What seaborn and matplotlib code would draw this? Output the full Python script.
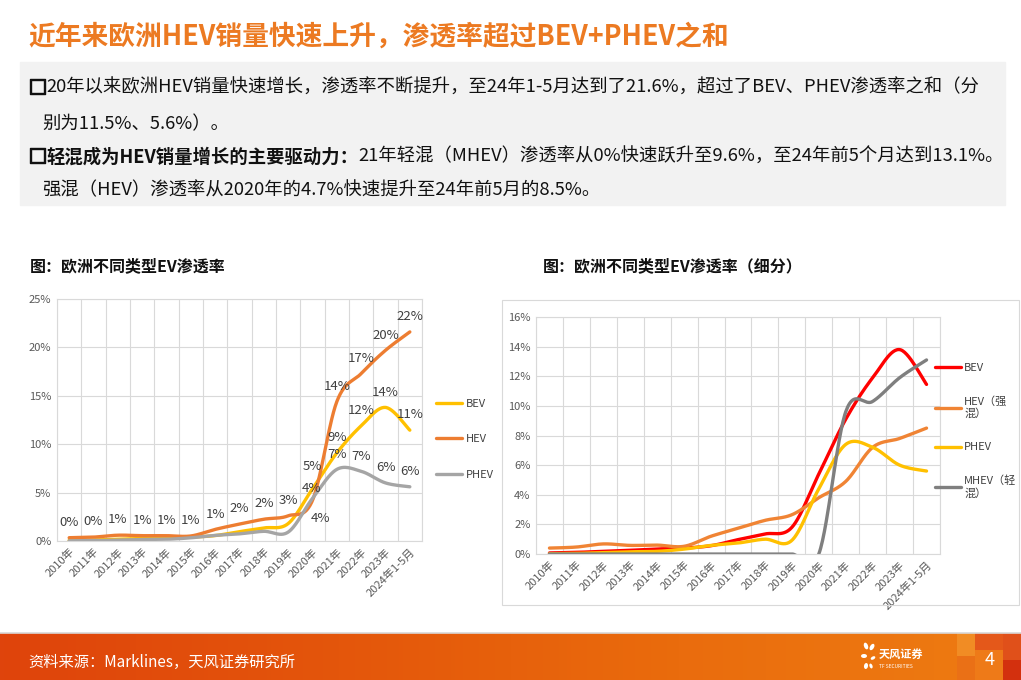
import numpy as np
import matplotlib
matplotlib.use("Agg")
import matplotlib.pyplot as plt
import matplotlib.patheffects as pe
import seaborn as sns
from matplotlib.patches import Rectangle, Ellipse
from matplotlib.ticker import FuncFormatter, MultipleLocator
from matplotlib.colors import LinearSegmentedColormap

# ── data (penetration rate, %) ─────────────────
years = ["2010年", "2011年", "2012年", "2013年", "2014年", "2015年", "2016年", "2017年",
         "2018年", "2019年", "2020年", "2021年", "2022年", "2023年", "2024年1-5月"]
bev = [0.07, 0.11, 0.18, 0.25, 0.34, 0.40, 0.56, 0.97, 1.35, 1.80, 5.4, 9.1, 11.9, 13.8, 11.45]
phev = [0.02, 0.04, 0.10, 0.15, 0.18, 0.33, 0.58, 0.74, 1.00, 0.92, 4.4, 7.4, 7.2, 6.0, 5.6]
hev_total = [0.34, 0.40, 0.60, 0.55, 0.55, 0.52, 1.20, 1.75, 2.25, 2.60, 4.2, 14.4, 17.3, 19.7, 21.6]
hev_strong = [0.40, 0.47, 0.68, 0.58, 0.60, 0.52, 1.20, 1.73, 2.27, 2.65, 3.8, 4.9, 7.2, 7.8, 8.5]
mhev = [0, 0, 0, 0, 0, 0, 0, 0, 0, 0, 0, 9.6, 10.3, 11.9, 13.1]

title = "近年来欧洲HEV销量快速上升，渗透率超过BEV+PHEV之和"
left_title = "图：欧洲不同类型EV渗透率"
right_title = "图：欧洲不同类型EV渗透率（细分）"
source = "资料来源：Marklines，天风证券研究所"

W, H = 1021, 680

sns.set_theme(style="white")
plt.rcParams["font.family"] = ["Noto Sans CJK SC", "DejaVu Sans"]
plt.rcParams["axes.unicode_minus"] = False


def smooth(ys, n=30):
    """Excel-like smoothed line (cardinal Bezier through every point)."""
    x = np.arange(len(ys), dtype=float)
    y = np.asarray(ys, dtype=float)
    px = np.concatenate([[x[0]], x, [x[-1]]])
    py = np.concatenate([[y[0]], y, [y[-1]]])
    t = np.linspace(0, 1, n)
    xs, ys_out = [], []
    for i in range(len(x) - 1):
        p0, p1, p2, p3 = (np.array([px[i + k], py[i + k]]) for k in range(4))
        c1 = p1 + (p2 - p0) / 6
        c2 = p2 - (p3 - p1) / 6
        b = (np.outer((1 - t) ** 3, p1) + np.outer(3 * (1 - t) ** 2 * t, c1)
             + np.outer(3 * (1 - t) * t ** 2, c2) + np.outer(t ** 3, p2))
        if i > 0:
            b = b[1:]
        xs.append(b[:, 0])
        ys_out.append(b[:, 1])
    return np.concatenate(xs), np.concatenate(ys_out)


def style_axes(ax, ymax, ystep):
    n = len(years)
    ax.set_xlim(-0.5, n - 0.5)
    ax.set_ylim(0, ymax)
    ax.yaxis.set_major_locator(MultipleLocator(ystep))
    ax.yaxis.set_major_formatter(FuncFormatter(lambda v, _: f"{v:.0f}%"))
    ax.set_xticks(range(n))
    ax.set_xticklabels(years, rotation=45, ha="right", va="top", rotation_mode="anchor")
    ax.set_xticks(np.arange(-0.5, n), minor=True)
    ax.grid(False)
    ax.grid(which="minor", axis="x", color="#D9D9D9", lw=0.8)
    ax.grid(which="major", axis="y", color="#D9D9D9", lw=0.8)
    ax.tick_params(axis="both", which="both", length=0, labelsize=8, colors="#595959", pad=4)
    for sp in ax.spines.values():
        sp.set_color("#D9D9D9")
        sp.set_linewidth(0.8)
    ax.set_xlabel("")
    ax.set_ylabel("")


fig = plt.figure(figsize=(W / 100, H / 100), dpi=100)


def px_axes(l, t, r, b):
    return fig.add_axes([l / W, 1 - b / H, (r - l) / W, (b - t) / H])


# ── header ─────────────────────────────────────
fig.text(28 / W, 1 - 37 / H, title, fontsize=19.3, fontweight="bold", color="#EC7A22",
         va="center", ha="left")
fig.patches.append(Rectangle((20 / W, 1 - 205 / H), 985 / W, 143 / H,
                             transform=fig.transFigure, color="#F2F2F2", zorder=0))

renderer = fig.canvas.get_renderer()
thick = [pe.withStroke(linewidth=1.0, foreground="#111111")]


def rich_line(x_px, y_px, parts, size=13.2):
    x = x_px
    for s, weight in parts:
        t = fig.text(x / W, 1 - y_px / H, s, fontsize=size, fontweight=weight,
                     color="#111111", va="center", ha="left")
        if s == "□":
            t.set_path_effects(thick)
        x += t.get_window_extent(renderer).width


rich_line(28, 88, [("□", "bold"), ("20年以来欧洲HEV销量快速增长，渗透率不断提升，至24年1-5月达到了21.6%，超过了BEV、PHEV渗透率之和（分", "normal")])
rich_line(42, 124, [("别为11.5%、5.6%）。", "normal")])
rich_line(28, 157, [("□", "bold"), ("轻混成为HEV销量增长的主要驱动力：", "bold"),
                    ("21年轻混（MHEV）渗透率从0%快速跃升至9.6%，至24年前5个月达到13.1%。", "normal")])
rich_line(42, 190, [("强混（HEV）渗透率从2020年的4.7%快速提升至24年前5月的8.5%。", "normal")])

fig.text(30 / W, 1 - 266 / H, left_title, fontsize=11.5, fontweight="bold", color="#111111",
         va="center", ha="left")
fig.text(543 / W, 1 - 266 / H, right_title, fontsize=11.5, fontweight="bold", color="#111111",
         va="center", ha="left")

# ── left chart ─────────────────────────────────
axl = px_axes(57, 299, 422, 541)
left_series = [("BEV", bev, "#FFC000"), ("HEV", hev_total, "#ED7D31"), ("PHEV", phev, "#A5A5A5")]
for name, vals, col in left_series:
    xs, ys = smooth(vals)
    sns.lineplot(x=xs, y=ys, ax=axl, color=col, linewidth=2.4, label=name,
                 sort=False, estimator=None)
style_axes(axl, 25, 5)

# data labels: HEV for all years, BEV / PHEV from 2020 on
label_from = {"BEV": 10, "HEV": 0, "PHEV": 10}
label_offset = {("HEV", 10): (6, -13), ("BEV", 10): (0, 16), ("PHEV", 10): (-1, 7)}
for name, vals, col in left_series:
    for i, v in enumerate(vals):
        if i < label_from[name]:
            continue
        dx, dy = label_offset.get((name, i), (0, 11))
        axl.annotate(f"{v:.0f}%", (i, v), xytext=(dx, dy), textcoords="offset points",
                     ha="center", va="center", fontsize=9.5, color="#404040")

leg = axl.legend(loc="center left", bbox_to_anchor=(1.01, 0.42), frameon=False,
                 fontsize=8, handlelength=2.4, labelspacing=2.3, handletextpad=0.3)
for txt in leg.get_texts():
    txt.set_color("#404040")

# ── right chart ────────────────────────────────
fig.patches.append(Rectangle((502 / W, 1 - 605 / H), 517 / W, 305 / H, transform=fig.transFigure,
                             fill=False, edgecolor="#D9D9D9", lw=0.8))
axr = px_axes(536, 317, 940, 554)
right_series = [("BEV", bev, "#FF0000"), ("HEV（强\n混）", hev_strong, "#F08434"),
                ("PHEV", phev, "#FFC000"), ("MHEV（轻\n混）", mhev, "#7F7F7F")]
for name, vals, col in right_series:
    xs, ys = smooth(vals)
    sns.lineplot(x=xs, y=ys, ax=axr, color=col, linewidth=2.4, label=name,
                 sort=False, estimator=None)
style_axes(axr, 16, 2)
leg = axr.legend(loc="center left", bbox_to_anchor=(0.97, 0.52), frameon=False,
                 fontsize=8, handlelength=2.4, labelspacing=2.1, handletextpad=0.25,
                 borderaxespad=0.2)
for txt in leg.get_texts():
    txt.set_color("#404040")

# ── footer ─────────────────────────────────────
axf = fig.add_axes([0, 0, 1, 47 / H])
cmap = LinearSegmentedColormap.from_list("ft", ["#DF440C", "#E4560B", "#EA6C0D", "#EE7C12"])
axf.imshow(np.linspace(0, 1, 256)[None, :], aspect="auto", cmap=cmap, extent=[0, W, 0, 47])
for (x0, y0, w, h, c) in [(957, 24, 18, 23, "#F18C24"), (957, 0, 18, 24, "#EA7016"),
                          (975, 30, 28, 17, "#E4581A"), (975, 0, 28, 30, "#EE7A18"),
                          (1003, 20, 18, 27, "#E0501A"), (1003, 0, 18, 20, "#D3300E")]:
    axf.add_patch(Rectangle((x0, y0), w, h, color=c, lw=0))
for (cx, cy, ew, eh, ang) in [(866, 34, 4, 7, 20), (872, 33, 4, 7, -30), (864, 24, 6, 4, 0),
                              (873, 22, 5, 3, 30), (866, 14, 4, 6, -10), (871, 14, 3, 5, 20)]:
    axf.add_patch(Ellipse((cx, cy), ew, eh, angle=ang, color="white", lw=0))
axf.text(879, 26, "天风证券", fontsize=8, fontweight="bold", color="white", va="center", ha="left")
axf.text(879, 14, "TF SECURITIES", fontsize=3.5, color="white", va="center", ha="left")
axf.text(28, 18, source, fontsize=11, color="white", va="center", ha="left")
axf.text(990, 20, "4", fontsize=13, color="white", va="center", ha="center")
axf.set_xlim(0, W)
axf.set_ylim(0, 47)
axf.axis("off")
fig.add_artist(plt.Line2D([0, 1], [47 / H, 47 / H], transform=fig.transFigure,
                          color="#D8D8D8", lw=1.2))

fig.savefig("out.png", dpi=100)
plt.close(fig)
